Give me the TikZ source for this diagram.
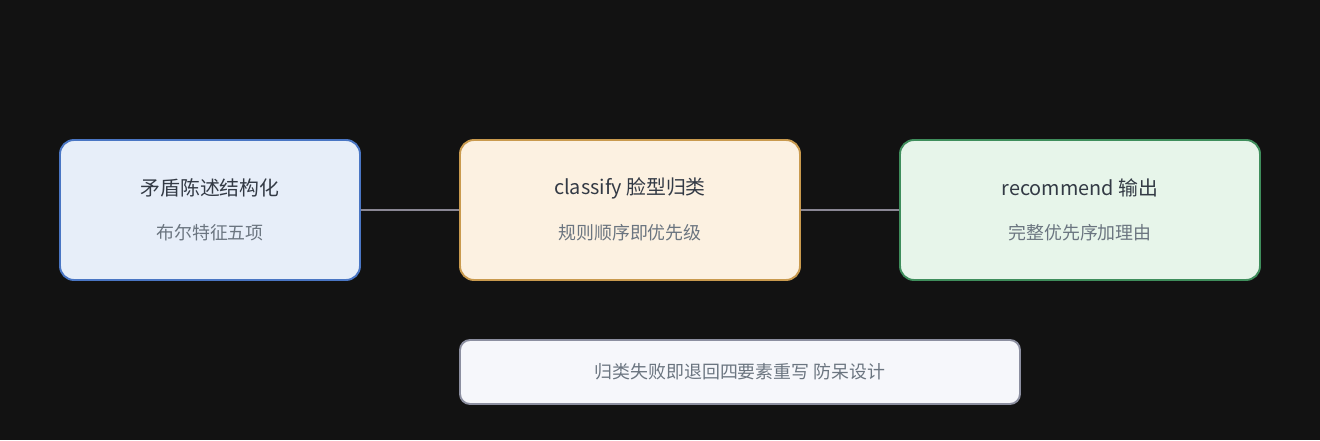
\documentclass[tikz,border=0pt]{standalone}
\usepackage{fontspec}
\setmainfont{Noto Sans CJK SC}
\usetikzlibrary{positioning}
\definecolor{bgdark}{HTML}{121212}
\definecolor{titlecol}{HTML}{333A45}
\definecolor{subcol}{HTML}{6B7580}
\definecolor{linkcol}{HTML}{8A8794}
\definecolor{blueedge}{HTML}{4A76C4}
\definecolor{bluefill}{HTML}{E7EEF9}
\definecolor{orangeedge}{HTML}{C99A4E}
\definecolor{orangefill}{HTML}{FCF1E1}
\definecolor{greenedge}{HTML}{3F8E5C}
\definecolor{greenfill}{HTML}{E7F5EA}
\definecolor{grayedge}{HTML}{8C8FA0}
\definecolor{grayfill}{HTML}{F6F7FB}
\tikzset{
	box/.style={draw,line width=1.1pt,rounded corners=0.28cm,minimum height=2.8cm},
	title/.style={font=\fontsize{11.3}{13}\selectfont,text=titlecol},
	sub/.style={font=\fontsize{10.2}{12}\selectfont,text=subcol},
	link/.style={line width=1.6pt,linkcol}
}
\begin{document}
\begin{tikzpicture}
		\fill[bgdark] (0,0) rectangle (26.4,8.8);
		\useasboundingbox (0,0) rectangle (26.4,8.8);
		% stages
		\node[box,draw=blueedge,fill=bluefill,minimum width=6cm] (parse) at (4.2,4.6) {};
		\node[box,draw=orangeedge,fill=orangefill,minimum width=6.8cm] (classify) at (12.6,4.6) {};
		\node[box,draw=greenedge,fill=greenfill,minimum width=7.2cm] (recommend) at (21.6,4.6) {};
		\node[title] (parseT) at ([yshift=0.44cm]parse.center) {矛盾陈述结构化};
		\node[sub] (parseS) at ([yshift=-0.46cm]parse.center) {布尔特征五项};
		\node[title] (classifyT) at ([yshift=0.44cm]classify.center) {classify 脸型归类};
		\node[sub] (classifyS) at ([yshift=-0.46cm]classify.center) {规则顺序即优先级};
		\node[title] (recommendT) at ([yshift=0.44cm]recommend.center) {recommend 输出};
		\node[sub] (recommendS) at ([yshift=-0.46cm]recommend.center) {完整优先序加理由};
		% links
		\draw[link] (parse) -- (classify);
		\draw[link] (classify) -- (recommend);
		% fallback note
		\node[box,draw=grayedge,fill=grayfill,minimum width=11.2cm,minimum height=1.28cm,
			rounded corners=0.2cm,sub] (fallback) at (14.8,1.36) {归类失败即退回四要素重写 防呆设计};
		\end{tikzpicture}
\end{document}
